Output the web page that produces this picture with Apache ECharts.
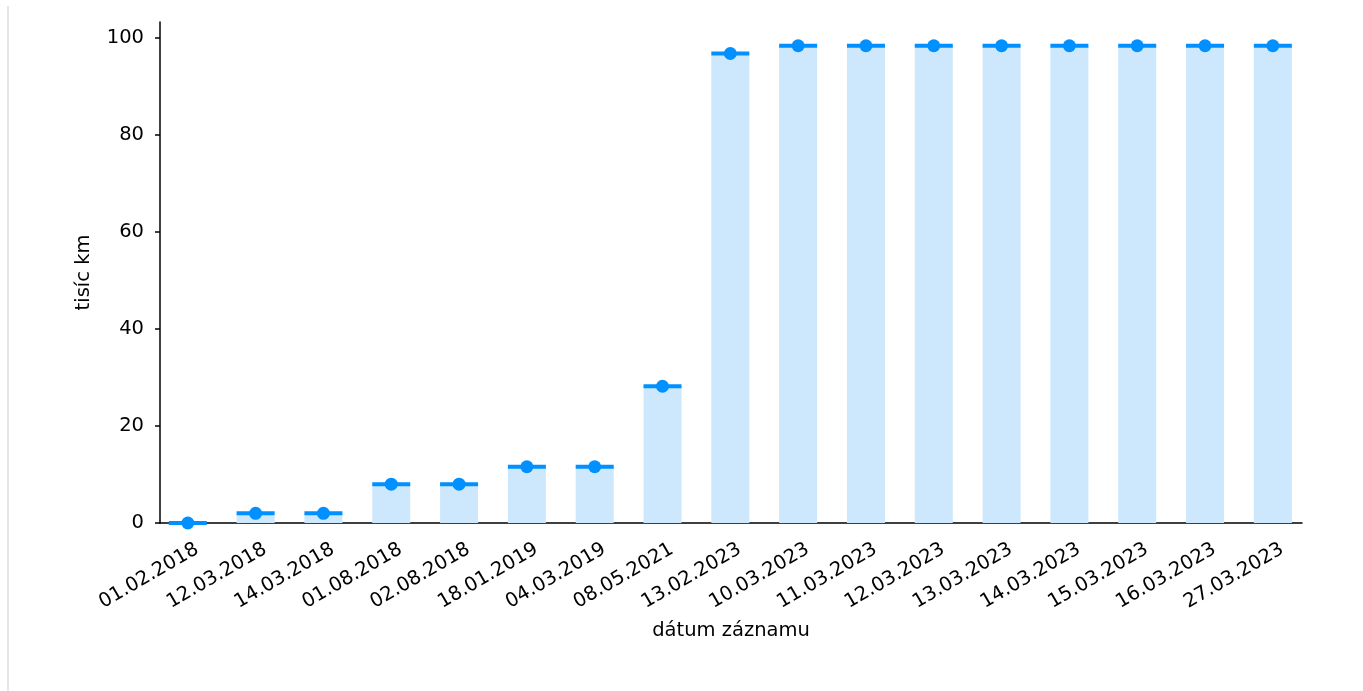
<!DOCTYPE html>
<html>
<head>
<meta charset="utf-8">
<script src="https://cdn.jsdelivr.net/npm/echarts@6/dist/echarts.min.js"></script>
<style>
  html, body { margin: 0; padding: 0; background: #fff; }
  #chart { width: 1363px; height: 691px; }
  .edge { position: absolute; left: 7px; top: 6px; width: 2px; height: 685px; background: #e6e6e6; }
</style>
</head>
<body>
<div class="edge"></div>
<div id="chart"></div>
<script>
// dátumy záznamov
var dates = ['01.02.2018', '12.03.2018', '14.03.2018', '01.08.2018', '02.08.2018',
  '18.01.2019', '04.03.2019', '08.05.2021', '13.02.2023', '10.03.2023', '11.03.2023',
  '12.03.2023', '13.03.2023', '14.03.2023', '15.03.2023', '16.03.2023', '27.03.2023']
// stav tachometra v tisícoch km
var kmValues = [0, 2.0, 2.0, 8.0, 8.0, 11.6, 11.6, 28.2, 96.8,
  98.4, 98.4, 98.4, 98.4, 98.4, 98.4, 98.4, 98.4]
var yTicks = [0, 20, 40, 60, 80, 100]

var points = kmValues.map(function (v, i) { return [i, v] })
// popisky sú mierne posunuté doprava ako v pôvodnom grafe
var labelPos = dates.map(function (d, i) { return i + 0.14 })

var font = 'DejaVu Sans'
var chart = echarts.init(document.getElementById('chart'))
chart.setOption({
  animation: false,
  grid: { left: 160, right: 61, top: 22, bottom: 168 },
  xAxis: {
    type: 'value',
    min: -0.41,
    max: 16.43,
    name: 'dátum záznamu',
    nameLocation: 'middle',
    nameGap: 98,
    nameTextStyle: { fontFamily: font, fontSize: 19.5, color: '#000' },
    splitLine: { show: false },
    axisLine: { lineStyle: { color: '#000', width: 1.5 } },
    axisTick: { show: false },
    axisLabel: {
      customValues: labelPos,
      rotate: 30,
      margin: 25,
      fontFamily: font,
      fontSize: 19.5,
      color: '#000',
      formatter: function (v) { return dates[Math.round(v)] }
    }
  },
  yAxis: {
    type: 'value',
    min: 0,
    max: 103.3,
    name: 'tisíc km',
    nameLocation: 'middle',
    nameGap: 66,
    nameTextStyle: { fontFamily: font, fontSize: 19.5, color: '#000' },
    splitLine: { show: false },
    axisLine: { show: true, onZero: false, lineStyle: { color: '#000', width: 1.5 } },
    axisTick: { show: true, length: 5, customValues: yTicks, lineStyle: { color: '#000', width: 1.5 } },
    axisLabel: { customValues: yTicks, margin: 16, fontFamily: font, fontSize: 19.5, color: '#000' }
  },
  series: [
    {
      type: 'bar',
      data: points,
      barWidth: 38,
      itemStyle: { color: '#cde8fc' }
    },
    {
      type: 'scatter',
      data: points,
      symbol: 'rect',
      symbolSize: [38, 4],
      itemStyle: { color: '#0090ff', opacity: 1 }
    },
    {
      type: 'scatter',
      data: points,
      symbolSize: 13,
      itemStyle: { color: '#0090ff', opacity: 1 }
    }
  ]
})
</script>
</body>
</html>
